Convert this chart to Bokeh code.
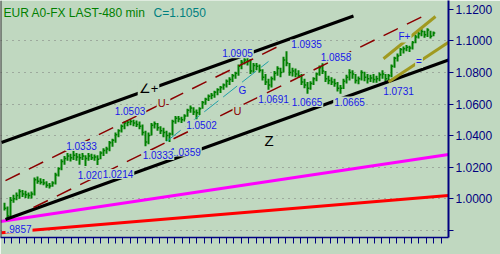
from bokeh.plotting import figure
from bokeh.models import (Range1d, FixedTicker, Span, Label, ColumnDataSource,
                          NumeralTickFormatter, CustomLabelingPolicy)
from bokeh.core.properties import value
from bokeh.embed import file_html
from bokeh.resources import INLINE

# ---------------- data ----------------
bar_high = [
    0.9975, 0.9950, 1.0010, 1.0025, 1.0040, 1.0060, 1.0055, 1.0050, 1.0040, 1.0045,
    1.0135, 1.0140, 1.0130, 1.0125, 1.0110, 1.0100, 1.0110, 1.0165, 1.0200, 1.0250,
    1.0270, 1.0290, 1.0285, 1.0310, 1.0290, 1.0285, 1.0290, 1.0275, 1.0290, 1.0285,
    1.0280, 1.0275, 1.0300, 1.0320, 1.0330, 1.0365, 1.0380, 1.0420, 1.0440, 1.0470,
    1.0490, 1.0495, 1.0503, 1.0500, 1.0495, 1.0490, 1.0470, 1.0430, 1.0420, 1.0480,
    1.0490, 1.0480, 1.0460, 1.0450, 1.0430, 1.0420, 1.0500, 1.0525, 1.0525, 1.0520,
    1.0535, 1.0570, 1.0590, 1.0580, 1.0565, 1.0580, 1.0620, 1.0640, 1.0660, 1.0670,
    1.0685, 1.0700, 1.0715, 1.0730, 1.0755, 1.0770, 1.0790, 1.0805, 1.0850, 1.0880,
    1.0905, 1.0895, 1.0885, 1.0860, 1.0860, 1.0850, 1.0820, 1.0790, 1.0760, 1.0775,
    1.0810, 1.0840, 1.0830, 1.0900, 1.0935, 1.0860, 1.0830, 1.0825, 1.0815, 1.0790,
    1.0760, 1.0740, 1.0745, 1.0770, 1.0800, 1.0845, 1.0858, 1.0810, 1.0780, 1.0770,
    1.0760, 1.0740, 1.0720, 1.0760, 1.0785, 1.0820, 1.0815, 1.0790, 1.0775, 1.0815,
    1.0805, 1.0790, 1.0785, 1.0790, 1.0780, 1.0800, 1.0815, 1.0790, 1.0790, 1.0850,
    1.0900, 1.0920, 1.0955, 1.0965, 1.0975, 1.0970, 1.1000, 1.1040, 1.1060, 1.1075,
    1.1065, 1.1080, 1.1065, 1.1060,
]
bar_low = [
    0.9925, 0.9857, 0.9880, 0.9975, 0.9990, 1.0000, 1.0010, 1.0005, 1.0000, 1.0002,
    1.0020, 1.0095, 1.0090, 1.0085, 1.0070, 1.0065, 1.0075, 1.0090, 1.0140, 1.0180,
    1.0215, 1.0240, 1.0235, 1.0245, 1.0240, 1.0215, 1.0245, 1.0207, 1.0240, 1.0245,
    1.0240, 1.0214, 1.0250, 1.0270, 1.0285, 1.0300, 1.0330, 1.0355, 1.0390, 1.0420,
    1.0440, 1.0460, 1.0465, 1.0460, 1.0455, 1.0440, 1.0400, 1.0333, 1.0345, 1.0400,
    1.0445, 1.0430, 1.0410, 1.0390, 1.0365, 1.0359, 1.0400, 1.0475, 1.0485, 1.0480,
    1.0490, 1.0520, 1.0545, 1.0530, 1.0502, 1.0530, 1.0570, 1.0595, 1.0620, 1.0630,
    1.0640, 1.0655, 1.0670, 1.0690, 1.0705, 1.0720, 1.0740, 1.0760, 1.0780, 1.0820,
    1.0850, 1.0845, 1.0790, 1.0800, 1.0815, 1.0800, 1.0750, 1.0720, 1.0691, 1.0705,
    1.0750, 1.0780, 1.0770, 1.0800, 1.0840, 1.0780, 1.0775, 1.0770, 1.0765, 1.0720,
    1.0700, 1.0665, 1.0690, 1.0720, 1.0745, 1.0780, 1.0790, 1.0740, 1.0725, 1.0720,
    1.0710, 1.0680, 1.0665, 1.0695, 1.0730, 1.0750, 1.0760, 1.0730, 1.0725, 1.0750,
    1.0745, 1.0730, 1.0740, 1.0735, 1.0735, 1.0745, 1.0760, 1.0731, 1.0740, 1.0770,
    1.0830, 1.0870, 1.0905, 1.0920, 1.0935, 1.0930, 1.0945, 1.0985, 1.1015, 1.1030,
    1.1020, 1.1025, 1.1015, 1.1030,
]
bar_close = [
    0.9940, 0.9890, 0.9990, 1.0000, 1.0020, 1.0045, 1.0030, 1.0025, 1.0020, 1.0030,
    1.0120, 1.0110, 1.0105, 1.0100, 1.0085, 1.0080, 1.0100, 1.0150, 1.0190, 1.0235,
    1.0255, 1.0270, 1.0260, 1.0275, 1.0265, 1.0260, 1.0270, 1.0255, 1.0270, 1.0260,
    1.0265, 1.0250, 1.0290, 1.0305, 1.0315, 1.0355, 1.0370, 1.0405, 1.0430, 1.0460,
    1.0480, 1.0485, 1.0490, 1.0480, 1.0470, 1.0460, 1.0420, 1.0360, 1.0400, 1.0465,
    1.0475, 1.0450, 1.0430, 1.0420, 1.0400, 1.0410, 1.0490, 1.0510, 1.0505, 1.0500,
    1.0525, 1.0560, 1.0575, 1.0550, 1.0545, 1.0570, 1.0610, 1.0630, 1.0650, 1.0655,
    1.0675, 1.0690, 1.0705, 1.0720, 1.0745, 1.0755, 1.0780, 1.0795, 1.0840, 1.0865,
    1.0880, 1.0870, 1.0810, 1.0845, 1.0840, 1.0815, 1.0770, 1.0740, 1.0720, 1.0760,
    1.0795, 1.0825, 1.0800, 1.0880, 1.0860, 1.0800, 1.0810, 1.0790, 1.0780, 1.0740,
    1.0720, 1.0700, 1.0730, 1.0760, 1.0790, 1.0830, 1.0810, 1.0760, 1.0750, 1.0740,
    1.0730, 1.0700, 1.0700, 1.0745, 1.0770, 1.0800, 1.0790, 1.0750, 1.0760, 1.0800,
    1.0770, 1.0760, 1.0765, 1.0755, 1.0760, 1.0785, 1.0790, 1.0760, 1.0780, 1.0840,
    1.0890, 1.0905, 1.0945, 1.0950, 1.0960, 1.0955, 1.0990, 1.1025, 1.1045, 1.1060,
    1.1040, 1.1070, 1.1030, 1.1050,
]
bar_index = list(range(len(bar_high)))

# trend lines: (bar index, price) end points
channel_upper_x = [-1.0, 116.33]
channel_upper_y = [1.0356, 1.1158]
channel_lower_x = [0.33, 148.0]
channel_lower_y = [0.9868, 1.0879]
median_a_x = [0.33, 93.67]
median_a_y = [1.0115, 1.0988]
median_b_x = [9.67, 139.33]
median_b_y = [0.9944, 1.1155]
g_line_x = [54.0, 88.0]
g_line_y = [1.0363, 1.0870]
fan_upper_x = [126.33, 143.67]
fan_upper_y = [1.0887, 1.1155]
fan_lower_x = [128.0, 148.0]
fan_lower_y = [1.0739, 1.0992]
magenta_x = [-1.33, 148.0]
magenta_y = [0.9856, 1.0280]
red_x = [-1.0, 148.0]
red_y = [0.9784, 1.0020]

# price labels (text, bar index, price)
price_lbl_text = ["1.0905", "1.0935", "1.0858", "1.0691", "1.0665", "1.0665", "1.0731",
                  "1.0503", "1.0502", "1.0359", "1.0333", "1.0333", "1.0207", "1.0214", ".9857"]
price_lbl_x = [77.67, 100.67, 110.5, 89.67, 100.83, 115.0, 131.33,
               41.83, 65.67, 60.33, 51.17, 25.67, 29.5, 37.83, 4.83]
price_lbl_y = [1.0922, 1.0978, 1.0898, 1.0632, 1.0613, 1.0616, 1.0680,
               1.0556, 1.0470, 1.0299, 1.0277, 1.0334, 1.0150, 1.0157, 0.9811]

mark_text = ["\u2220+", "U-", "U", "G", "Z", "F+", "="]
mark_x = [48.0, 53.0, 77.67, 79.33, 88.17, 133.33, 138.17]
mark_y = [1.0699, 1.0607, 1.0553, 1.0683, 1.0369, 1.1031, 1.0870]

y_ticks = [0.98, 1.00, 1.02, 1.04, 1.06, 1.08, 1.10, 1.12]
title_text = "EUR A0-FX LAST-480 min"
last_text = "C=1.1050"

# ---------------- styling ----------------
BG = "#C0D8C0"
NAVY = "#000080"
BLUE = "#1818E8"
DRED = "#8B0000"
GREEN = "#008000"
FONT = "Liberation Sans"

p = figure(width=500, height=254, output_backend="svg", toolbar_location=None,
           x_range=Range1d(-4.0 / 3.0, 148.0), y_range=Range1d(0.97540, 1.12564),
           y_axis_location="right",
           min_border_left=0, min_border_top=0, min_border_right=52, min_border_bottom=17,
           background_fill_color=BG, border_fill_color=BG, outline_line_color=None)

# axes
p.yaxis.ticker = FixedTicker(ticks=y_ticks)
p.yaxis.formatter = NumeralTickFormatter(format="0.0000")
p.yaxis.major_label_overrides = {0.98: ""}
p.yaxis.major_label_text_font = FONT
p.yaxis.major_label_text_font_size = "12px"
p.yaxis.major_label_text_color = NAVY
p.yaxis.major_label_standoff = 2
p.yaxis.major_tick_out = 5
p.yaxis.major_tick_in = 0
p.yaxis.minor_tick_line_color = None
p.yaxis.axis_line_color = NAVY
p.yaxis.axis_line_width = 2
p.yaxis.major_tick_line_color = NAVY
p.yaxis.major_tick_line_width = 1

p.xaxis.ticker = FixedTicker(ticks=[k * 7.4 / 3.0 for k in range(60)])
p.xaxis.major_label_policy = CustomLabelingPolicy(code="return new Set()")
p.xaxis.major_label_standoff = 0
p.xaxis.major_tick_out = 6
p.xaxis.major_tick_in = 0
p.xaxis.minor_tick_line_color = None
p.xaxis.axis_line_color = NAVY
p.xaxis.axis_line_width = 1.5
p.xaxis.major_tick_line_color = NAVY
p.xaxis.major_tick_line_width = 1

p.xgrid.visible = False
p.ygrid.ticker = FixedTicker(ticks=y_ticks[:-1])
p.ygrid.grid_line_color = "#7A7A7A"
p.ygrid.grid_line_dash = "1 5"
p.ygrid.grid_line_width = 1

p.add_layout(Span(location=-4.0 / 3.0, dimension="height", line_color="#303030", line_width=2))

# price bars
bars = ColumnDataSource(dict(x=bar_index, hi=bar_high, lo=bar_low, cl=bar_close,
                             x2=[i + 0.6 for i in bar_index]))
p.segment(x0="x", y0="lo", x1="x", y1="hi", source=bars, line_color=GREEN, line_width=2)
p.segment(x0="x", y0="cl", x1="x2", y1="cl", source=bars, line_color=GREEN, line_width=1.5)

# trend lines
p.line(red_x, red_y, line_color="#FF0000", line_width=3)
p.line(magenta_x, magenta_y, line_color="#FF00FF", line_width=3)
p.line(channel_upper_x, channel_upper_y, line_color="black", line_width=3)
p.line(channel_lower_x, channel_lower_y, line_color="black", line_width=3)
p.line(median_a_x, median_a_y, line_color=DRED, line_width=1.5, line_dash="16 10")
p.line(median_b_x, median_b_y, line_color=DRED, line_width=1.5, line_dash="16 10")
p.line(g_line_x, g_line_y, line_color="#20A0A8", line_width=1, line_dash="18 6")
p.line(fan_upper_x, fan_upper_y, line_color="#A09A20", line_width=3)
p.line(fan_lower_x, fan_lower_y, line_color="#A09A20", line_width=3)

# price labels
p.text(x=price_lbl_x, y=price_lbl_y, text=price_lbl_text, text_align="center",
       text_baseline="middle", text_font=value(FONT), text_font_size="10px",
       text_color=BLUE, background_fill_color=BG, padding=1)

mark_color = ["black", DRED, DRED, BLUE, "black", BLUE, BLUE]
mark_size = ["13px", "11px", "11px", "10px", "15px", "10px", "10px"]
marks = ColumnDataSource(dict(x=mark_x, y=mark_y, t=mark_text, c=mark_color, s=mark_size))
p.text(x="x", y="y", text="t", source=marks, text_align="center", text_baseline="middle",
       text_font=value(FONT), text_font_size="s", text_color="c",
       background_fill_color=BG, padding=1)

# title
p.add_layout(Label(x=3, y=237 - 12.5, x_units="screen", y_units="screen", text=title_text,
                   text_font=FONT, text_font_size="12px", text_color=GREEN,
                   text_baseline="alphabetic"))
p.add_layout(Label(x=153, y=237 - 12.5, x_units="screen", y_units="screen", text=last_text,
                   text_font=FONT, text_font_size="12px", text_color="#008080",
                   text_baseline="alphabetic"))

open("out.html", "w").write(file_html(p, INLINE))
